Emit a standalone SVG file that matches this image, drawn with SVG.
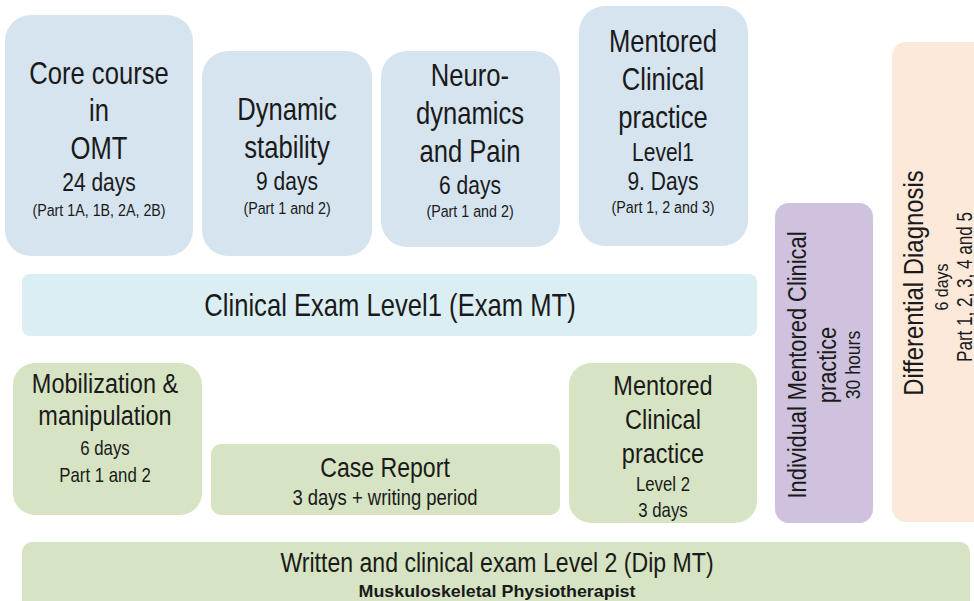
<svg xmlns="http://www.w3.org/2000/svg" width="974" height="601" viewBox="0 0 974 601">
<style>
text{font-family:"Liberation Sans",Arial,sans-serif;fill:#1a1a1a;text-anchor:middle}
.blue{fill:#d6e4f0}
.green{fill:#d6e4c3}
.h{font-size:30.5px}
.d{font-size:25px}
.p{font-size:17px}
.g28{font-size:28px}
.g20{font-size:20px}
</style>
<rect width="974" height="601" fill="#ffffff"/>
<g id="core">
<rect class="blue" x="5" y="15" width="188" height="241" rx="26"/>
<g transform="translate(99 0) scale(0.84 1)">
<text class="h" x="0" y="84">Core course</text>
<text class="h" x="0" y="121">in</text>
<text class="h" x="0" y="159">OMT</text>
<text class="d" x="0" y="191">24 days</text>
<text class="p" x="0" y="216">(Part 1A, 1B, 2A, 2B)</text>
</g>
</g>
<g id="dynamic">
<rect class="blue" x="202" y="51" width="170" height="205" rx="26"/>
<g transform="translate(287 0) scale(0.84 1)">
<text class="h" x="0" y="120">Dynamic</text>
<text class="h" x="0" y="158">stability</text>
<text class="d" x="0" y="190">9 days</text>
<text class="p" x="0" y="214">(Part 1 and 2)</text>
</g>
</g>
<g id="neuro">
<rect class="blue" x="381" y="51" width="179" height="196" rx="26"/>
<g transform="translate(470 0) scale(0.84 1)">
<text class="h" x="0" y="86">Neuro-</text>
<text class="h" x="0" y="124">dynamics</text>
<text class="h" x="0" y="162">and Pain</text>
<text class="d" x="0" y="194">6 days</text>
<text class="p" x="0" y="217">(Part 1 and 2)</text>
</g>
</g>
<g id="mentored1">
<rect class="blue" x="579" y="6" width="169" height="240" rx="26"/>
<g transform="translate(663 0) scale(0.84 1)">
<text class="h" x="0" y="52">Mentored</text>
<text class="h" x="0" y="90">Clinical</text>
<text class="h" x="0" y="128">practice</text>
<text class="d" x="0" y="161">Level1</text>
<text class="d" x="0" y="190">9. Days</text>
<text class="p" x="0" y="213">(Part 1, 2 and 3)</text>
</g>
</g>
<g id="exam1">
<rect x="22" y="274" width="735" height="62" rx="8" fill="#daeef3"/>
<g transform="translate(390 0) scale(0.84 1)">
<text class="h" x="0" y="316">Clinical Exam Level1 (Exam MT)</text>
</g>
</g>
<g id="individual">
<rect x="775" y="203" width="98" height="320" rx="14" fill="#cfc2de"/>
<g transform="translate(824 365) rotate(-90) scale(0.84 1)">
<text x="0" y="-18" style="font-size:26px">Individual Mentored Clinical</text>
<text x="0" y="12" style="font-size:26px">practice</text>
<text x="0" y="36" style="font-size:21px">30 hours</text>
</g>
</g>
<g id="differential">
<rect x="892" y="42" width="100" height="480" rx="14" fill="#fde9da"/>
<g transform="translate(923 283) rotate(-90) scale(0.84 1)">
<text x="0" y="0" style="font-size:28.5px">Differential Diagnosis</text>
</g>
<g transform="translate(948 287) rotate(-90) scale(0.84 1)">
<text x="0" y="0" style="font-size:19px">6 days</text>
</g>
<g transform="translate(972 287) rotate(-90)">
<text x="0" y="0" style="font-size:22px" textLength="150" lengthAdjust="spacingAndGlyphs">Part 1, 2, 3, 4 and 5</text>
</g>
</g>
<g id="mobilization">
<rect class="green" x="13" y="363" width="189" height="152" rx="22"/>
<g transform="translate(105 0) scale(0.84 1)">
<text class="g28" x="0" y="393">Mobilization &amp;</text>
<text class="g28" x="0" y="425">manipulation</text>
<text class="g20" x="0" y="455">6 days</text>
<text class="g20" x="0" y="482">Part 1 and 2</text>
</g>
</g>
<g id="casereport">
<rect class="green" x="211" y="444" width="349" height="71" rx="10"/>
<g transform="translate(385 0) scale(0.84 1)">
<text x="0" y="477" style="font-size:27.5px">Case Report</text>
<text x="0" y="505" style="font-size:22px">3 days + writing period</text>
</g>
</g>
<g id="mentored2">
<rect class="green" x="569" y="363" width="188" height="160" rx="22"/>
<g transform="translate(663 0) scale(0.84 1)">
<text class="g28" x="0" y="395">Mentored</text>
<text class="g28" x="0" y="429">Clinical</text>
<text class="g28" x="0" y="463">practice</text>
<text class="g20" x="0" y="491">Level 2</text>
<text class="g20" x="0" y="517">3 days</text>
</g>
</g>
<g id="exam2">
<rect class="green" x="22" y="542" width="948" height="70" rx="10"/>
<g transform="translate(497 0) scale(0.84 1)">
<text x="0" y="572" style="font-size:27.5px">Written and clinical exam Level 2 (Dip MT)</text>
</g>
<text x="497" y="597" style="font-size:16.5px;font-weight:bold" textLength="277" lengthAdjust="spacingAndGlyphs">Muskuloskeletal Physiotherapist</text>
</g>
<g id="connectors"></g>
</svg>
